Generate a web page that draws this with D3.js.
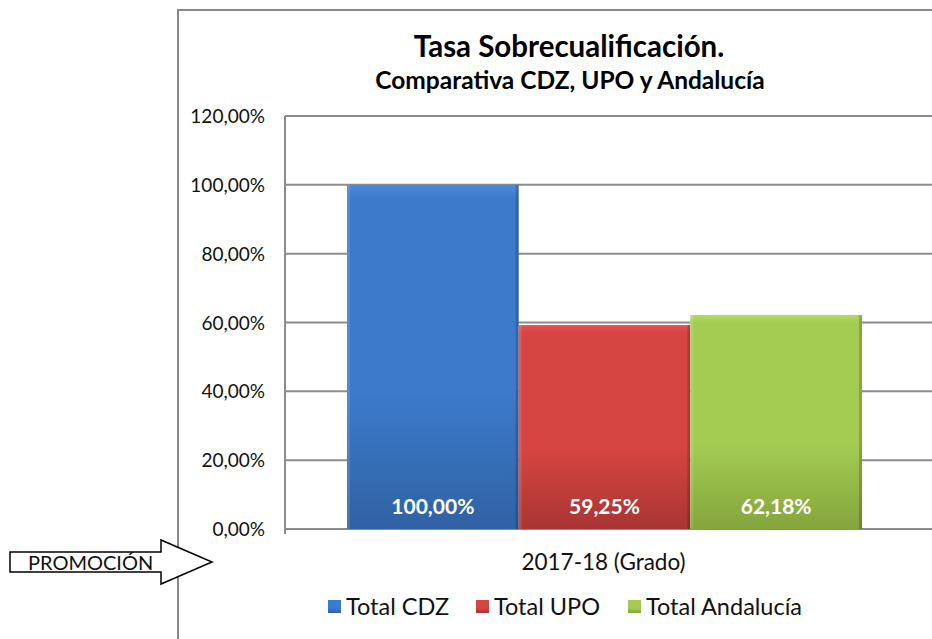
<html lang="es">
<head>
<meta charset="UTF-8">
<title>Tasa Sobrecualificación</title>
<style>
    body { margin: 0; background: #fff; }
    svg { display: block; font-family: Lato, "Open Sans", sans-serif; }
</style>
</head>
<body>
<svg id="chart"></svg>
<script src="https://cdnjs.cloudflare.com/ajax/libs/d3/7.8.5/d3.min.js"></script>
<script>
// data
var categories = ["2017-18 (Grado)"];
var seriesNames = ["Total CDZ", "Total UPO", "Total Andalucía"];
var seriesValues = [100.00, 59.25, 62.18];
var yTicks = [0, 20, 40, 60, 80, 100, 120];

var colours = [
    { top: "#4a8ad8", mid: "#3c7bcb", bot: "#3062a3" },
    { top: "#e2524e", mid: "#d64541", bot: "#a93532" },
    { top: "#b2d862", mid: "#a4cc52", bot: "#84a53c" }
];

var width = 932, height = 639;
var svg = d3.select("#chart").attr("width", width).attr("height", height);

var fmt = function (v) { return v.toFixed(2).replace(".", ",") + "%"; };

// gradients for bevelled bars
var defs = svg.append("defs");
colours.forEach(function (c, i) {
    var g = defs.append("linearGradient").attr("id", "grad" + i)
        .attr("x1", 0).attr("y1", 0).attr("x2", 0).attr("y2", 1);
    g.append("stop").attr("offset", "0%").attr("stop-color", c.top);
    g.append("stop").attr("offset", "4%").attr("stop-color", c.mid);
    g.append("stop").attr("offset", "60%").attr("stop-color", c.mid);
    g.append("stop").attr("offset", "100%").attr("stop-color", c.bot);
});

// outer frame (top and left edges visible)
svg.append("path")
    .attr("d", "M178,639 L178,10 L932,10")
    .attr("fill", "none").attr("stroke", "#888").attr("stroke-width", 2);

// titles
svg.append("text").attr("x", 569).attr("y", 57).attr("text-anchor", "middle")
    .attr("font-size", 29.5).attr("font-weight", "bold").text("Tasa Sobrecualificación.");
svg.append("text").attr("x", 570).attr("y", 89).attr("text-anchor", "middle")
    .attr("font-size", 24.5).attr("font-weight", "bold").text("Comparativa CDZ, UPO y Andalucía");

// scales
var plotLeft = 285, plotRight = 924;
var y = d3.scaleLinear().domain([0, 120]).range([529, 116]);
var x0 = d3.scaleBand().domain(categories).range([plotLeft, plotRight]).padding(0);
var x1 = d3.scaleBand().domain(seriesNames).range([62, 577]);

// gridlines
svg.append("g").selectAll("line").data(yTicks).enter().append("line")
    .attr("x1", plotLeft).attr("x2", width)
    .attr("y1", function (d) { return y(d); }).attr("y2", function (d) { return y(d); })
    .attr("stroke", "#8c8c8c").attr("stroke-width", 2);

// y axis line
svg.append("line").attr("x1", plotLeft).attr("x2", plotLeft)
    .attr("y1", y(120)).attr("y2", y(0) + 5)
    .attr("stroke", "#8c8c8c").attr("stroke-width", 2);

// y tick labels
svg.append("g").selectAll("text").data(yTicks).enter().append("text")
    .attr("x", 265).attr("y", function (d) { return y(d) + 7; })
    .attr("text-anchor", "end").attr("font-size", 19).attr("fill", "#111")
    .text(function (d) { return fmt(d); });

// bars
var group = svg.append("g").attr("transform", "translate(" + x0(categories[0]) + ",0)");
var bars = group.selectAll(".bar").data(seriesValues).enter().append("g").attr("class", "bar");

bars.append("rect")
    .attr("x", function (d, i) { return x1(seriesNames[i]); })
    .attr("y", function (d) { return y(d); })
    .attr("width", x1.bandwidth())
    .attr("height", function (d) { return y(0) - y(d); })
    .attr("fill", function (d, i) { return "url(#grad" + i + ")"; });

// bevel edges
bars.append("rect")
    .attr("x", function (d, i) { return x1(seriesNames[i]); })
    .attr("y", function (d) { return y(d); })
    .attr("width", 3)
    .attr("height", function (d) { return y(0) - y(d); })
    .attr("fill", "#fff").attr("opacity", 0.12);
bars.append("rect")
    .attr("x", function (d, i) { return x1(seriesNames[i]) + x1.bandwidth() - 3; })
    .attr("y", function (d) { return y(d); })
    .attr("width", 3)
    .attr("height", function (d) { return y(0) - y(d); })
    .attr("fill", "#000").attr("opacity", 0.18);

bars.append("text")
    .attr("x", function (d, i) { return x1(seriesNames[i]) + x1.bandwidth() / 2; })
    .attr("y", 514)
    .attr("text-anchor", "middle").attr("font-size", 21).attr("font-weight", "bold")
    .attr("fill", "#fff")
    .text(function (d) { return fmt(d); });

// category label
svg.append("text").attr("x", x0(categories[0]) + x0.bandwidth() / 2 - 1).attr("y", 570)
    .attr("text-anchor", "middle").attr("font-size", 22.5).attr("fill", "#111")
    .text(categories[0]);

// legend
var legendX = [328, 476, 628];
var legend = svg.append("g").selectAll("g").data(seriesNames).enter().append("g")
    .attr("transform", function (d, i) { return "translate(" + legendX[i] + ",600)"; });
legend.append("rect").attr("width", 13).attr("height", 13)
    .attr("fill", function (d, i) { return "url(#grad" + i + ")"; });
legend.append("text").attr("x", 18).attr("y", 15).attr("font-size", 23.5).attr("fill", "#111")
    .text(function (d) { return d; });

// PROMOCIÓN arrow
svg.append("path")
    .attr("d", "M10,552 L161,552 L161,540 L212,562 L161,584 L161,572 L10,572 Z")
    .attr("fill", "#fff").attr("stroke", "#000").attr("stroke-width", 1.5);
svg.append("text").attr("x", 28).attr("y", 570).attr("font-size", 20).attr("fill", "#111")
    .text("PROMOCIÓN");
</script>
</body>
</html>
